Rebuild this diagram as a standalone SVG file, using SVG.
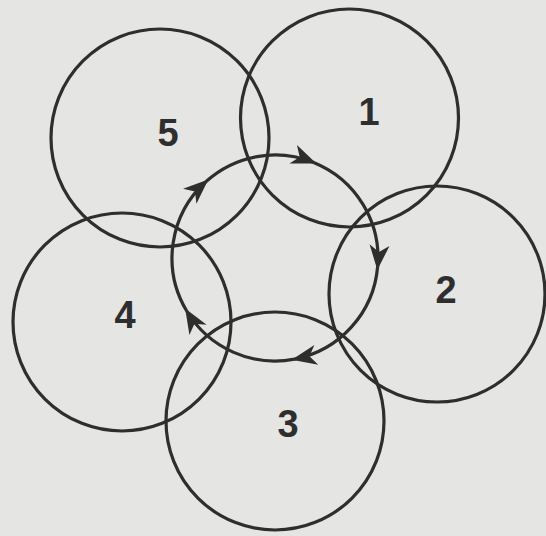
<svg xmlns="http://www.w3.org/2000/svg" width="546" height="536" viewBox="0 0 546 536">
  <defs>
    <style>
      .ring { fill: none; stroke: #2e2e2e; stroke-width: 3.2; }
      .flow { fill: none; stroke: #2e2e2e; stroke-width: 3.2; }
      .num { font-family: "Liberation Sans", Arial, sans-serif; font-weight: bold; font-size: 38px; fill: #2e2e2e; text-anchor: middle; }
    </style>
    <marker id="arrow" markerUnits="userSpaceOnUse" markerWidth="32" markerHeight="28" viewBox="-28 -14 32 28" refX="0" refY="0" orient="auto">
      <path d="M3,0 L-22,-10 L-15,0 L-22,10 Z" fill="#2e2e2e"/>
    </marker>
  </defs>
  <rect x="0" y="0" width="546" height="536" fill="#e5e5e3"/>

  <g id="connectors">
    <path class="flow" marker-end="url(#arrow)" d="M206.1,181.5 A103,103 0 0 1 313.6,162.5"/>
    <path class="flow" marker-end="url(#arrow)" d="M313.6,162.5 A103,103 0 0 1 377.6,267.0"/>
    <path class="flow" marker-end="url(#arrow)" d="M377.6,267.0 A103,103 0 0 1 294.7,359.1"/>
    <path class="flow" marker-end="url(#arrow)" d="M294.7,359.1 A103,103 0 0 1 186.7,311.0"/>
    <path class="flow" marker-end="url(#arrow)" d="M186.7,311.0 A103,103 0 0 1 206.1,181.5"/>
  </g>

  <g id="node-1">
    <circle class="ring" cx="349.5" cy="118" r="109"/>
    <text class="num" x="369" y="125">1</text>
  </g>
  <g id="node-2">
    <circle class="ring" cx="437" cy="294" r="108"/>
    <text class="num" x="446" y="303">2</text>
  </g>
  <g id="node-3">
    <circle class="ring" cx="275" cy="421" r="109"/>
    <text class="num" x="288" y="437">3</text>
  </g>
  <g id="node-4">
    <circle class="ring" cx="122" cy="322" r="109"/>
    <text class="num" x="125" y="328">4</text>
  </g>
  <g id="node-5">
    <circle class="ring" cx="160" cy="138" r="109"/>
    <text class="num" x="168" y="146">5</text>
  </g>
</svg>
